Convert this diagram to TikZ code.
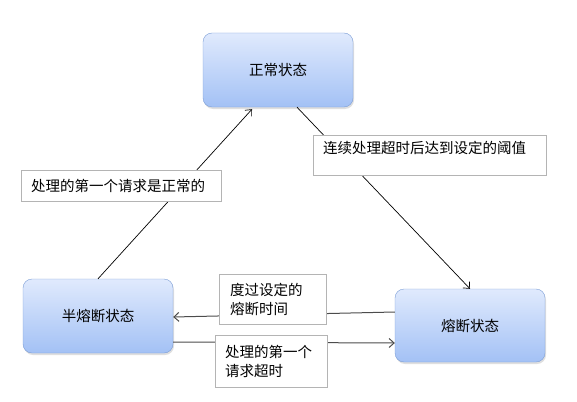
\documentclass[tikz,border=0pt]{standalone}
\usepackage{fontspec}
\setmainfont{Noto Sans CJK SC}
\usepackage{tikz}
\usetikzlibrary{arrows.meta,shadows,scopes}
\definecolor{statetop}{HTML}{E0EAFD}
\definecolor{statebottom}{HTML}{A3C1F5}
\definecolor{stateline}{HTML}{7C9ED6}
\definecolor{noteline}{HTML}{B4B4B4}
\tikzset{>={Straight Barb[length=5pt,width=9pt]},
         state/.style={rectangle, rounded corners=9pt, draw=stateline,
           top color=statetop, bottom color=statebottom,
           minimum width=150pt, minimum height=74pt,
           drop shadow={shadow xshift=1pt, shadow yshift=-2pt, opacity=.25},
           font=\fontsize{14.5}{19}\selectfont},
         note/.style={rectangle, draw=noteline, fill=white, align=left,
           font=\fontsize{14.5}{19}\selectfont}}
\tikzstyle{diag}=[->, line width=.7pt, black]
\tikzstyle{flat}=[->, line width=1pt, black!70]

\begin{document}
\begin{tikzpicture}[x=1pt,y=-1pt]
  \useasboundingbox (0,0) rectangle (577,401);
  \node[state] (normal) at (278,70) {正常状态};
  \node[state] (half) at (98,316) {半熔断状态};
  \node[state, minimum height=73pt] (open) at (470,325.5) {熔断状态};
  % transitions
  \draw[diag] (half.north) -- ([xshift=-26pt,yshift=-2pt]normal.south);
  \draw[diag] ([xshift=19pt]normal.south) -- (open.north);
  \draw[flat] ([yshift=13.5pt]open.west) -- ([yshift=-1pt]half.east);
  \draw[flat] ([yshift=-26pt]half.east) -- ([yshift=-17.5pt]open.west);
  % labels on the transitions
  \node[note, text width=180pt, inner xsep=10pt, minimum height=31pt]
    (toNormal) at (121,185.5) {处理的第一个请求是正常的};
  \node[note, text width=213pt, inner xsep=10pt, inner ysep=4pt,
    text height=14.5pt, text depth=17.5pt]
    (toOpen) at (429.5,155) {连续处理超时后达到设定的阈值};
  \node[note, text width=85pt, inner xsep=11pt, minimum height=50pt]
    (toHalf) at (272.5,299) {度过设定的\\熔断时间};
  \node[note, text width=92pt, inner xsep=10pt, minimum height=52pt]
    (backOpen) at (271,361) {处理的第一个\\请求超时};
\end{tikzpicture}
\end{document}
